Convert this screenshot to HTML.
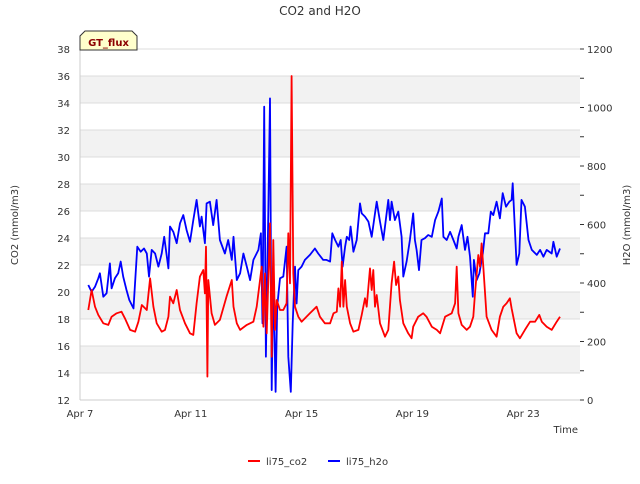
<!DOCTYPE html>
<html><head><meta charset="utf-8"><style>
body{margin:0;background:#fff;font-family:"DejaVu Sans","Liberation Sans",sans-serif}
svg text{font-family:"DejaVu Sans","Liberation Sans",sans-serif}
</style></head><body>
<svg id="chart" width="640" height="480">
<g id="grid"></g>
<g id="series"></g>
<g id="axes"></g>
<text x="320" y="15" text-anchor="middle" font-size="12" fill="#333">CO2 and H2O</text>
<text transform="translate(18,225) rotate(-90)" text-anchor="middle" font-size="10" fill="#333">CO2 (mmol/m3)</text>
<text transform="translate(630,225) rotate(-90)" text-anchor="middle" font-size="10" fill="#333">H2O (mmol/m3)</text>
<text x="578" y="433" text-anchor="end" font-size="10" fill="#333">Time</text>
<g>
<path d="M80,50 L80,36 L85,31 L132,31 L137,36 L137,50 Z" fill="#ffffcc" stroke="#333" stroke-width="1"/>
<text x="108.5" y="46" text-anchor="middle" font-size="10" font-weight="bold" fill="#8b0000">GT_flux</text>
</g>
<g>
<g><line x1="248" y1="461" x2="260" y2="461" stroke="#f00" stroke-width="2"/><text x="266" y="465" font-size="10" fill="#333">li75_co2</text></g>
<g><line x1="328" y1="461" x2="340" y2="461" stroke="#00f" stroke-width="2"/><text x="346" y="465" font-size="10" fill="#333">li75_h2o</text></g>
</g>
</svg>
<script>
const co2Days=[0.30,0.42,0.54,0.66,0.84,1.02,1.14,1.32,1.50,1.62,1.81,1.99,2.11,2.23,2.41,2.53,2.65,2.77,2.95,3.07,3.19,3.25,3.37,3.49,3.61,3.79,3.97,4.09,4.21,4.33,4.45,4.51,4.55,4.60,4.63,4.75,4.87,5.05,5.29,5.48,5.54,5.66,5.78,6.02,6.26,6.38,6.56,6.62,6.68,6.74,6.86,6.92,6.98,7.04,7.10,7.22,7.34,7.46,7.52,7.58,7.64,7.70,7.76,7.88,8.00,8.30,8.54,8.66,8.84,9.03,9.15,9.27,9.33,9.39,9.45,9.51,9.57,9.63,9.75,9.87,10.05,10.17,10.29,10.35,10.47,10.53,10.59,10.65,10.71,10.83,11.01,11.13,11.25,11.34,11.41,11.49,11.55,11.67,11.85,11.97,12.03,12.21,12.39,12.51,12.70,12.88,13.00,13.18,13.42,13.54,13.60,13.66,13.78,13.96,14.08,14.20,14.26,14.38,14.44,14.50,14.56,14.68,14.86,15.04,15.16,15.28,15.40,15.52,15.58,15.76,15.88,16.06,16.25,16.43,16.58,16.67,16.85,17.03,17.21,17.33];
const co2Values=[18.67,20.15,18.91,18.30,17.68,17.56,18.17,18.42,18.54,18.05,17.19,17.06,17.8,19.04,18.67,21.01,18.91,17.68,17.06,17.19,18.17,19.65,19.16,20.15,18.67,17.68,16.94,16.82,19.16,21.14,21.63,19.9,23.36,13.73,20.89,18.42,17.56,17.93,19.65,20.89,18.91,17.68,17.19,17.56,17.8,18.91,21.88,17.43,21.38,16.94,25.09,15.21,23.85,17.19,19.41,18.67,18.67,19.16,24.35,20.64,36.0,21.38,18.91,18.17,17.8,18.42,18.91,18.17,17.68,17.68,18.42,18.54,20.27,18.91,22.25,18.91,20.89,18.91,17.68,17.06,17.19,18.30,19.53,18.91,21.75,20.15,21.63,18.91,19.78,17.68,16.69,17.19,20.64,22.25,20.52,21.14,19.41,17.68,16.94,16.57,17.43,18.17,18.42,18.17,17.43,17.19,16.94,18.17,18.42,19.16,21.88,18.42,17.56,17.19,17.43,18.17,19.9,22.74,21.88,23.6,21.88,18.17,17.19,16.69,18.17,18.91,19.16,19.53,18.79,16.94,16.57,17.19,17.8,17.8,18.30,17.8,17.43,17.19,17.8,18.17];
const h2oDays=[0.30,0.42,0.54,0.66,0.72,0.84,0.96,1.08,1.14,1.26,1.38,1.47,1.56,1.68,1.78,1.93,2.07,2.19,2.31,2.41,2.49,2.59,2.71,2.83,2.95,3.04,3.19,3.25,3.37,3.49,3.61,3.73,3.85,3.97,4.09,4.21,4.33,4.39,4.51,4.57,4.69,4.81,4.93,5.05,5.23,5.35,5.48,5.54,5.66,5.78,5.90,6.02,6.14,6.26,6.44,6.53,6.59,6.65,6.71,6.80,6.86,6.92,6.98,7.06,7.12,7.22,7.34,7.46,7.52,7.61,7.68,7.76,7.82,7.88,8.00,8.12,8.30,8.48,8.60,8.78,8.90,9.03,9.11,9.21,9.33,9.41,9.48,9.57,9.63,9.72,9.77,9.87,9.99,10.11,10.17,10.29,10.41,10.53,10.65,10.71,10.83,10.95,11.01,11.13,11.19,11.25,11.37,11.49,11.61,11.67,11.79,11.91,12.03,12.09,12.15,12.24,12.33,12.45,12.57,12.70,12.82,12.94,13.06,13.12,13.24,13.36,13.48,13.60,13.66,13.78,13.90,13.99,14.08,14.18,14.22,14.32,14.42,14.54,14.62,14.74,14.83,14.92,15.04,15.16,15.26,15.38,15.50,15.58,15.62,15.76,15.86,15.94,16.06,16.19,16.31,16.49,16.61,16.73,16.85,17.03,17.09,17.21,17.33];
const h2oValues=[393,370,387,416,433,353,365,467,382,416,433,473,422,376,342,313,524,507,518,501,422,513,501,456,501,558,450,593,575,536,604,632,581,541,615,684,593,627,536,672,678,598,684,547,501,547,479,558,410,433,501,456,410,479,513,570,262,1003,148,661,1031,34,433,28,319,416,422,524,148,28,262,456,330,444,456,479,496,518,501,479,479,473,570,547,524,547,456,524,558,547,593,507,547,672,638,627,610,558,638,678,610,547,593,684,615,678,615,644,558,422,473,547,638,547,513,444,547,553,564,558,615,644,689,558,547,575,547,518,558,598,513,558,490,353,479,410,433,501,570,570,644,632,678,621,707,661,678,684,741,462,501,684,661,547,513,496,513,490,513,501,541,490,518];
const leftTicks=[12,14,16,18,20,22,24,26,28,30,32,34,36,38];
const rightTicks=[0,200,400,600,800,1000,1200];
const xTickDays=[0,4,8,12,16];
const xTickLabels=["Apr 7","Apr 11","Apr 15","Apr 19","Apr 23"];

const X0=80,X1=580,Y0=400,Y1=49,DAYPX=27.7;
const xs=d=>X0+d*DAYPX;
const yL=v=>Y0-(v-12)/(38-12)*(Y0-Y1);
const yR=v=>Y0-v/1200*(Y0-Y1);
const NS="http://www.w3.org/2000/svg";
function mk(tag,attrs,parent){const e=document.createElementNS(NS,tag);for(const k in attrs)e.setAttribute(k,attrs[k]);parent.appendChild(e);return e;}
const grid=document.getElementById('grid'),axes=document.getElementById('axes'),series=document.getElementById('series');
for(let i=0;i<leftTicks.length-1;i++){
  if(i%2===1){const b=mk('rect',{x:X0,y:yL(leftTicks[i+1]),width:X1-X0,height:yL(leftTicks[i])-yL(leftTicks[i+1]),fill:'#f2f2f2'},grid);
  
  }
}
leftTicks.forEach(t=>{
  const l=mk('line',{x1:X0,x2:X1,y1:yL(t),y2:yL(t),stroke:'#dcdcdc','stroke-width':1},grid);
  
  
  const tx=mk('text',{x:70,y:yL(t)+4,'text-anchor':'end','font-size':10,fill:'#333'},axes);tx.textContent=t;
  
  
});
mk('line',{x1:X0,x2:X0,y1:Y1,y2:Y0,stroke:'#ccc'},axes);
mk('line',{x1:X0,x2:X1,y1:Y0,y2:Y0,stroke:'#ccc'},axes);
for(let v=0;v<=1200;v+=100){mk('line',{x1:X1,x2:X1+4,y1:yR(v),y2:yR(v),stroke:'#333'},axes);}
rightTicks.forEach(t=>{
  const tx=mk('text',{x:587,y:yR(t)+4,'font-size':10,fill:'#333'},axes);tx.textContent=t;
  
  
});
xTickDays.forEach((d,i)=>{
  const tx=mk('text',{x:xs(d),y:417,'text-anchor':'middle','font-size':10,fill:'#333'},axes);tx.textContent=xTickLabels[i];
  
  
});
const pc=mk('polyline',{points:co2Days.map((d,i)=>xs(d).toFixed(1)+','+yL(co2Values[i]).toFixed(1)).join(' '),fill:'none',stroke:'#f00','stroke-width':1.8,'stroke-linejoin':'round'},series);


const ph=mk('polyline',{points:h2oDays.map((d,i)=>xs(d).toFixed(1)+','+yR(h2oValues[i]).toFixed(1)).join(' '),fill:'none',stroke:'#00f','stroke-width':1.8,'stroke-linejoin':'round'},series);


series.insertBefore(ph,pc);
</script>
</body></html>
